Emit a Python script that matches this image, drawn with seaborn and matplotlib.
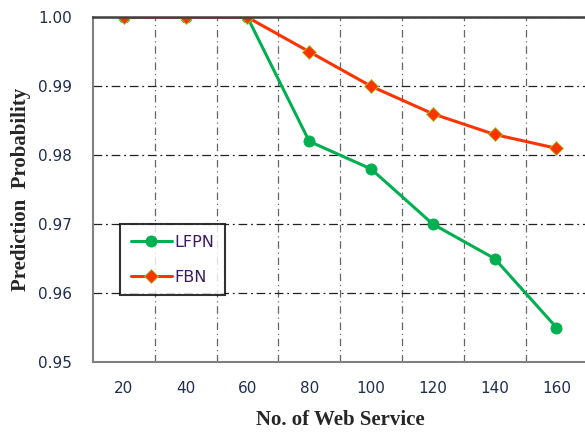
import numpy as np
import pandas as pd
import matplotlib.pyplot as plt
import seaborn as sns
from matplotlib.ticker import FixedLocator

services = ["20", "40", "60", "80", "100", "120", "140", "160"]
lfpn = [1.000, 1.000, 1.000, 0.982, 0.978, 0.970, 0.965, 0.955]
fbn = [1.000, 1.000, 1.000, 0.995, 0.990, 0.986, 0.983, 0.981]
y_ticks = [0.95, 0.96, 0.97, 0.98, 0.99, 1.00]

df = pd.DataFrame({
    "service": services * 2,
    "prob": lfpn + fbn,
    "method": ["LFPN"] * len(services) + ["FBN"] * len(services),
})

sns.set_style("white")
plt.rcParams["font.family"] = ["DejaVu Sans"]
fig = plt.figure(figsize=(5.85, 4.32), dpi=100)
ax = fig.add_axes([0.159, 0.162, 0.845, 0.798])

palette = {"LFPN": "#00b050", "FBN": "#ff3300"}
sns.lineplot(data=df, x="service", y="prob", hue="method", style="method",
             palette=palette, markers={"LFPN": "o", "FBN": "D"}, dashes=False,
             linewidth=2.2, markersize=8, markeredgewidth=0.6, ax=ax)
for line in ax.lines:
    if line.get_marker() == "D":
        line.set_markersize(7)
        line.set_markeredgecolor("#9acd32")
    elif line.get_marker() == "o":
        line.set_markeredgecolor("#00b050")

ax.set_xlim(-0.5, len(services) - 0.5)
ax.set_ylim(0.95, 1.00)
ax.set_yticks(y_ticks)
ax.set_yticklabels([f"{v:.2f}" for v in y_ticks])
ax.xaxis.set_minor_locator(FixedLocator(np.arange(0.5, len(services) - 1, 1.0)))

ax.grid(False)
ax.grid(True, which="minor", axis="x", color="#666666", linestyle=(0, (6, 3, 1, 3)), linewidth=0.9)
ax.grid(True, which="major", axis="y", color="#222222", linestyle=(0, (7, 3, 1.5, 3)), linewidth=0.9)

ax.tick_params(axis="x", which="major", direction="in", length=4, width=1, color="#808080",
               labelsize=11, labelcolor="#1f2d4d", pad=14)
ax.tick_params(axis="x", which="minor", length=0)
ax.tick_params(axis="y", length=0, labelsize=11, labelcolor="#1f2d4d", pad=15)

for side in ["left", "bottom"]:
    ax.spines[side].set_color("#808080")
    ax.spines[side].set_linewidth(1.5)
ax.spines["top"].set_color("#404040")
ax.spines["top"].set_linewidth(1.8)
ax.spines["right"].set_visible(False)

ax.set_xlabel("No. of Web Service", family="Liberation Serif", fontweight="bold", fontsize=15, labelpad=10)
ax.set_ylabel("Prediction  Probability", family="Liberation Serif", fontweight="bold", fontsize=15, labelpad=5)

handles, labels = ax.get_legend_handles_labels()
leg = ax.legend(handles, labels, loc="lower left", bbox_to_anchor=(0.055, 0.194), fontsize=11.5,
                frameon=True, fancybox=False, borderpad=0.65, labelspacing=1.25, handlelength=2.6,
                handletextpad=0.15, borderaxespad=0)
leg.get_frame().set_edgecolor("black")
leg.get_frame().set_linewidth(1.5)
for t in leg.get_texts():
    t.set_color("#3a1a5a")

fig.savefig("out.png", dpi=100)
